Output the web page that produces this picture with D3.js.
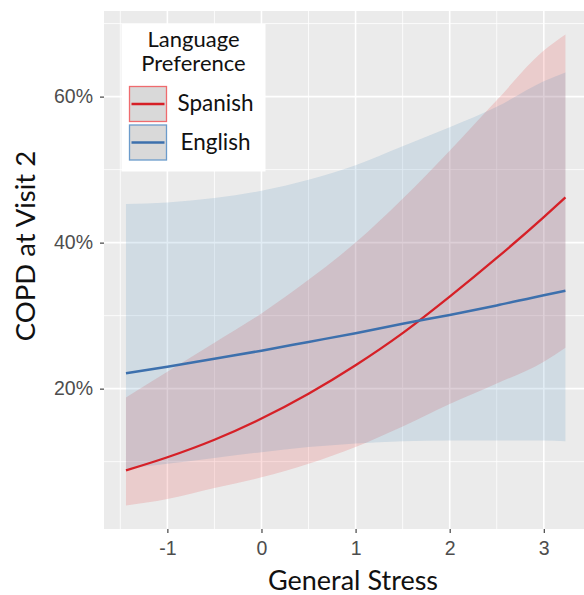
<!DOCTYPE html>
<html>
<head>
<meta charset="utf-8">
<script src="https://cdn.jsdelivr.net/npm/d3@7"></script>
<style>
  body { margin: 0; background: #fff; }
  svg { display: block; }
</style>
</head>
<body>
<div id="chart"></div>
<script>
// значения (проценты)
const stress = [-1.44, -1, -0.5, 0, 0.5, 1, 1.5, 2, 2.5, 3, 3.23];

const spanishFit   = [8.8, 10.6, 13.0, 15.9, 19.3, 23.2, 27.6, 32.6, 37.9, 43.5, 46.2];
const spanishLow   = [4.0, 4.9, 6.4, 7.85, 9.7, 12.0, 14.8, 17.9, 20.7, 23.7, 25.6];
const spanishHigh  = [18.8, 22.3, 26.3, 30.3, 34.9, 40.0, 46.0, 52.6, 59.5, 66.3, 68.5];

const englishFit   = [22.1, 23.0, 24.1, 25.2, 26.4, 27.6, 28.9, 30.1, 31.4, 32.8, 33.4];
const englishLow   = [9.0, 9.7, 10.5, 11.3, 12.0, 12.5, 12.8, 12.9, 12.9, 12.9, 12.8];
const englishHigh  = [45.3, 45.5, 46.1, 47.1, 48.6, 50.6, 53.2, 55.8, 58.6, 62.1, 63.3];

const xTicks = [-1, 0, 1, 2, 3];
const xMinor = [-1.5, -0.5, 0.5, 1.5, 2.5, 3.5];
const yTicks = [20, 40, 60];
const yMinor = [10, 30, 50, 70];

const legendTitle = ['Language', 'Preference'];
const groups = ['Spanish', 'English'];

const width = 584, height = 595;
const panel = { left: 104, top: 11, bottom: 529 };

const svg = d3.select('#chart').append('svg')
    .attr('width', width)
    .attr('height', height);

// ggplot-подобное расширение на 5%
const xMin = d3.min(stress), xMax = d3.max(stress);
const xPad = (xMax - xMin) * 0.05;
const allY = spanishLow.concat(spanishHigh, englishLow, englishHigh);
const yMin = d3.min(allY), yMax = d3.max(allY);
const yPad = (yMax - yMin) * 0.05;

const x = d3.scaleLinear()
    .domain([xMin - xPad, xMax + xPad])
    .range([panel.left, panel.left + 483.4]);
const y = d3.scaleLinear()
    .domain([yMin - yPad, yMax + yPad])
    .range([panel.bottom, panel.top]);

const panelRight = x.range()[1];

// фон панели
svg.append('rect')
    .attr('x', panel.left).attr('y', panel.top)
    .attr('width', panelRight - panel.left)
    .attr('height', panel.bottom - panel.top)
    .attr('fill', '#ebebeb');

const grid = svg.append('g');
grid.selectAll('.xmin').data(xMinor).enter().append('line')
    .attr('x1', d => x(d)).attr('x2', d => x(d))
    .attr('y1', panel.top).attr('y2', panel.bottom)
    .attr('stroke', '#fff').attr('stroke-width', 0.8);
grid.selectAll('.ymin').data(yMinor).enter().append('line')
    .attr('x1', panel.left).attr('x2', panelRight)
    .attr('y1', d => y(d)).attr('y2', d => y(d))
    .attr('stroke', '#fff').attr('stroke-width', 0.8);
grid.selectAll('.xmaj').data(xTicks).enter().append('line')
    .attr('x1', d => x(d)).attr('x2', d => x(d))
    .attr('y1', panel.top).attr('y2', panel.bottom)
    .attr('stroke', '#fff').attr('stroke-width', 1.6);
grid.selectAll('.ymaj').data(yTicks).enter().append('line')
    .attr('x1', panel.left).attr('x2', panelRight)
    .attr('y1', d => y(d)).attr('y2', d => y(d))
    .attr('stroke', '#fff').attr('stroke-width', 1.6);

// ленты доверительных интервалов
const area = d3.area()
    .x(d => x(d.x))
    .y0(d => y(d.lo))
    .y1(d => y(d.hi))
    .curve(d3.curveMonotoneX);
const line = d3.line()
    .x(d => x(d.x))
    .y(d => y(d.v))
    .curve(d3.curveMonotoneX);

const spanishBand = stress.map((s, i) => ({ x: s, lo: spanishLow[i], hi: spanishHigh[i] }));
const englishBand = stress.map((s, i) => ({ x: s, lo: englishLow[i], hi: englishHigh[i] }));

svg.append('path').datum(spanishBand)
    .attr('d', area).attr('fill', '#e41a1c').attr('fill-opacity', 0.15);
svg.append('path').datum(englishBand)
    .attr('d', area).attr('fill', '#377eb8').attr('fill-opacity', 0.15);

svg.append('path').datum(stress.map((s, i) => ({ x: s, v: spanishFit[i] })))
    .attr('d', line).attr('fill', 'none')
    .attr('stroke', '#d62027').attr('stroke-width', 2.3);
svg.append('path').datum(stress.map((s, i) => ({ x: s, v: englishFit[i] })))
    .attr('d', line).attr('fill', 'none')
    .attr('stroke', '#3d70ad').attr('stroke-width', 2.5);

// оси (обычный дефис вместо минуса, как в оригинале)
const xAxis = svg.append('g')
    .attr('transform', `translate(0,${panel.bottom})`)
    .call(d3.axisBottom(x).tickValues(xTicks).tickSize(4).tickPadding(8).tickFormat(d => String(d)));
const yAxis = svg.append('g')
    .attr('transform', `translate(${panel.left},0)`)
    .call(d3.axisLeft(y).tickValues(yTicks).tickSize(4).tickPadding(7).tickFormat(d => d + '%'));

[xAxis, yAxis].forEach(a => {
    a.select('.domain').remove();
    a.selectAll('.tick line').attr('stroke', '#333').attr('stroke-width', 1.1);
    a.selectAll('.tick text')
        .attr('fill', '#4d4d4d')
        .attr('font-family', '"Liberation Sans", Arial, sans-serif')
        .attr('font-size', '19.5px');
});

// подписи осей
svg.append('text')
    .attr('x', 353).attr('y', 590)
    .attr('text-anchor', 'middle')
    .attr('font-family', 'Lato, sans-serif')
    .attr('font-size', '27px')
    .attr('fill', '#111')
    .text('General Stress');

svg.append('text')
    .attr('transform', 'translate(35,246) rotate(-90)')
    .attr('text-anchor', 'middle')
    .attr('font-family', 'Lato, sans-serif')
    .attr('font-size', '27.5px')
    .attr('fill', '#111')
    .text('COPD at Visit 2');

// легенда
const legend = svg.append('g');
legend.append('rect')
    .attr('x', 121.5).attr('y', 24)
    .attr('width', 144).attr('height', 147.5)
    .attr('fill', '#fff');

legend.selectAll('.lt').data(legendTitle).enter().append('text')
    .attr('x', 193.5)
    .attr('y', (d, i) => 46.5 + i * 24.5)
    .attr('text-anchor', 'middle')
    .attr('font-family', 'Lato, sans-serif')
    .attr('font-size', '22px')
    .attr('fill', '#111')
    .text(d => d);

const keyColors = { Spanish: ['#d62027', '#ef6b6e'], English: ['#3d70ad', '#6b9bcb'] };
const keys = legend.selectAll('.key').data(groups).enter().append('g')
    .attr('transform', (d, i) => `translate(129.5,${86.5 + i * 38.5})`);
keys.append('rect')
    .attr('width', 37).attr('height', 35)
    .attr('fill', '#d9d9d9')
    .attr('stroke', d => keyColors[d][1])
    .attr('stroke-width', 1.3);
keys.append('line')
    .attr('x1', 2).attr('x2', 35)
    .attr('y1', 17.5).attr('y2', 17.5)
    .attr('stroke', d => keyColors[d][0])
    .attr('stroke-width', 2.3);
keys.append('text')
    .attr('x', 86).attr('y', 24.5)
    .attr('text-anchor', 'middle')
    .attr('font-family', 'Lato, sans-serif')
    .attr('font-size', '22.5px')
    .attr('fill', '#111')
    .text(d => d);
</script>
</body>
</html>
